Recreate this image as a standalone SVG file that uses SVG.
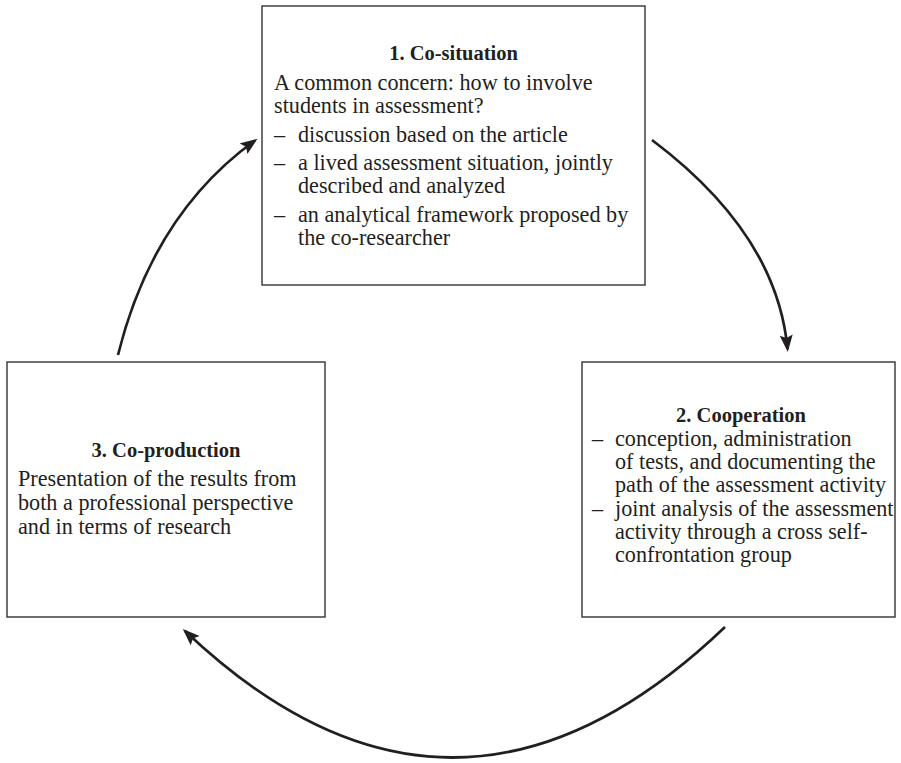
<svg xmlns="http://www.w3.org/2000/svg" width="901" height="763" viewBox="0 0 901 763">
<style>
.box{fill:#fff;stroke:#333;stroke-width:1.4}
.t{font-family:"Liberation Serif","Times New Roman",serif;font-size:20.5px;font-weight:bold;fill:#231f20;text-anchor:middle}
.b{font-family:"Liberation Serif","Times New Roman",serif;font-size:22.2px;fill:#231f20}
.arc{fill:none;stroke:#231f20;stroke-width:2.7;marker-end:url(#ah)}
</style>
<defs>
<marker id="ah" markerUnits="userSpaceOnUse" markerWidth="20" markerHeight="14" refX="14" refY="6.5" orient="auto">
<path d="M0,0 L17,6.5 L0,13 L3,6.5 z" fill="#231f20"/>
</marker>
</defs>
<rect width="901" height="763" fill="#fff"/>
<g id="connectors">
<path class="arc" d="M652,140 Q777,234 787.5,349"/>
<path class="arc" d="M725,627 Q454,886 185,631"/>
<path class="arc" d="M118,355 Q153,214 255,140.5"/>
</g>
<g id="node1">
<rect class="box" x="262" y="6" width="383" height="279"/>
<text class="t" x="453.5" y="60">1. Co-situation</text>
<text class="b" x="274" y="90">A common concern: how to involve</text>
<text class="b" x="274" y="113">students in assessment?</text>
<text class="b" x="274" y="142">–</text>
<text class="b" x="298" y="142">discussion based on the article</text>
<text class="b" x="274" y="170">–</text>
<text class="b" x="298" y="170">a lived assessment situation, jointly</text>
<text class="b" x="298" y="193">described and analyzed</text>
<text class="b" x="274" y="222">–</text>
<text class="b" x="298" y="222">an analytical framework proposed by</text>
<text class="b" x="298" y="245">the co-researcher</text>
</g>
<g id="node2">
<rect class="box" x="582" y="362" width="313" height="255"/>
<text class="t" x="741" y="422">2. Cooperation</text>
<text class="b" x="592" y="446">–</text>
<text class="b" x="615" y="446">conception, administration</text>
<text class="b" x="615" y="469">of tests, and documenting the</text>
<text class="b" x="615" y="492">path of the assessment activity</text>
<text class="b" x="592" y="516">–</text>
<text class="b" x="615" y="516">joint analysis of the assessment</text>
<text class="b" x="615" y="539">activity through a cross self-</text>
<text class="b" x="615" y="562">confrontation group</text>
</g>
<g id="node3">
<rect class="box" x="7" y="362" width="318" height="255"/>
<text class="t" x="166" y="457">3. Co-production</text>
<text class="b" x="18" y="486">Presentation of the results from</text>
<text class="b" x="18" y="510">both a professional perspective</text>
<text class="b" x="18" y="534">and in terms of research</text>
</g>
</svg>
